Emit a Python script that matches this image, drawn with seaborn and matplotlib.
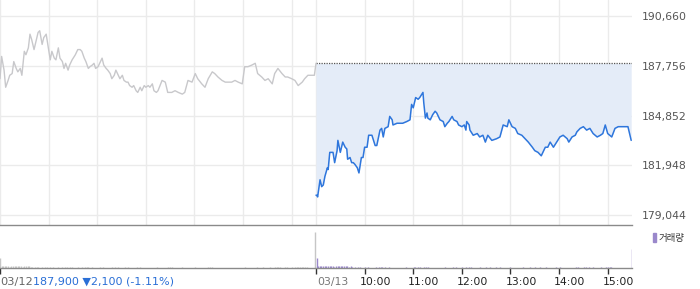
import numpy as np
import pandas as pd
import matplotlib
matplotlib.use("Agg")
import matplotlib.pyplot as plt
from matplotlib import transforms
from matplotlib.patches import Rectangle
import seaborn as sns

# ---------------- data ----------------
prev_close = 187900
ytick_values = [179044, 181948, 184852, 187756, 190660]
time_labels = ["10:00", "11:00", "12:00", "13:00", "14:00", "15:00"]
time_minutes = [60, 120, 180, 240, 300, 360]
day_labels = ["03/12", "03/13"]
summary_text = "187,900 \u25BC2,100 (-1.11%)"
legend_label = "거래량"

# 03/12 (minutes after 09:00, price)
day1_min = [0, 2, 5, 7, 10, 12, 15, 17, 20, 22,
            25, 27, 30, 32, 35, 37, 39, 42, 44, 47,
            49, 52, 54, 57, 59, 62, 64, 67, 69, 72,
            74, 77, 79, 81, 84, 86, 89, 93, 96, 99,
            101, 104, 106, 109, 111, 114, 116, 118, 121, 123,
            126, 128, 131, 133, 136, 138, 141, 143, 146, 148,
            151, 153, 156, 158, 160, 163, 165, 168, 170, 173,
            175, 178, 180, 183, 185, 188, 190, 193, 195, 200,
            204, 207, 212, 216, 220, 225, 228, 232, 237, 241,
            244, 249, 253, 257, 262, 265, 269, 274, 278, 281,
            286, 290, 294, 299, 302, 306, 311, 315, 318, 323,
            327, 331, 336, 339, 343, 348, 352, 355, 360, 364,
            368, 373, 376, 380, 385, 388, 390]
day1_price = [187000, 188300, 187500, 186500, 186900, 187200, 187300, 188000, 187600, 187400,
              187600, 187200, 188600, 188400, 188800, 189600, 189300, 188700, 189100, 189700,
              189800, 189000, 189400, 189600, 189000, 188100, 188600, 188200, 188100, 188800,
              188200, 188000, 187600, 187900, 187500, 187800, 188100, 188400, 188700, 188700,
              188600, 188200, 188000, 187600, 187700, 187800, 187900, 187600, 187700, 187900,
              188200, 187800, 187600, 187500, 187300, 187000, 187200, 187500, 187200, 187000,
              187200, 186900, 186800, 186800, 186600, 186500, 186600, 186300, 186200, 186500,
              186300, 186600, 186500, 186600, 186500, 186700, 186300, 186200, 186300, 186900,
              186800, 186200, 186200, 186300, 186200, 186100, 186200, 186900, 186800, 187300,
              187000, 186700, 186500, 187000, 187400, 187300, 187100, 186900, 186800, 186800,
              186800, 186900, 186800, 186700, 187700, 187700, 187800, 187900, 187300, 187100,
              186900, 187000, 186700, 187300, 187600, 187300, 187100, 187100, 187000, 186900,
              186600, 186800, 187000, 187200, 187200, 187200, 187900]

# 03/13
day2_min = [0, 1, 2, 5, 7, 9, 11, 14, 15, 17,
            21, 23, 26, 27, 30, 32, 33, 36, 38, 39,
            42, 44, 46, 48, 51, 53, 56, 58, 60, 63,
            65, 69, 73, 75, 79, 81, 83, 85, 89, 91,
            94, 95, 100, 104, 107, 112, 116, 118, 120, 123,
            126, 128, 132, 133, 135, 137, 138, 141, 144, 147,
            149, 153, 157, 159, 162, 164, 168, 170, 174, 176,
            180, 183, 185, 186, 189, 190, 194, 199, 202, 206,
            209, 212, 217, 223, 227, 231, 236, 238, 242, 246,
            249, 254, 258, 262, 267, 270, 274, 278, 283, 286,
            289, 293, 297, 301, 305, 310, 312, 316, 320, 322,
            326, 330, 334, 338, 342, 347, 351, 354, 357, 360,
            365, 369, 373, 378, 385, 389]
day2_price = [180200, 180200, 180100, 181100, 180700, 180800, 181300, 181800, 181700, 182700,
              182700, 182100, 182800, 183400, 182700, 183100, 183300, 183000, 182900, 182300,
              182400, 182100, 182100, 182000, 181800, 181500, 182400, 182400, 183000, 183000,
              183700, 183700, 183100, 183100, 184000, 184100, 183600, 184100, 184200, 184800,
              184600, 184300, 184400, 184400, 184400, 184500, 184600, 185500, 185300, 185900,
              185800, 185900, 186200, 185600, 184700, 185000, 184700, 184600, 184900, 185100,
              185000, 184600, 184500, 184200, 184400, 184500, 184800, 184600, 184500, 184300,
              184200, 184300, 184000, 184500, 184300, 184000, 183700, 183800, 183600, 183700,
              183300, 183700, 183400, 183500, 183600, 184300, 184200, 184600, 184200, 184100,
              183800, 183700, 183500, 183300, 183000, 182800, 182700, 182500, 183000, 183000,
              183300, 183000, 183300, 183600, 183700, 183500, 183300, 183600, 183700, 183900,
              184100, 184200, 184000, 184100, 183800, 183600, 183700, 183800, 184300, 183800,
              183600, 184100, 184200, 184200, 184200, 183400]

# volume (relative units)
vol1_min = [0, 2, 4, 6, 8, 10, 12, 14, 16, 18, 20, 22, 24, 26, 28, 30, 32, 34, 36, 38, 40,
            43, 46, 47, 52, 56, 58, 62, 65, 72, 77, 80, 83, 86, 89, 96, 101, 105, 107, 109, 114,
            123, 127, 138, 142, 146, 154, 158, 169, 173, 194, 207, 210, 212, 225, 241, 257, 259,
            262, 302, 317, 325, 333, 339, 342, 343, 345, 352, 354, 360, 364, 367, 368, 370, 373,
            374, 376, 379, 389]
vol1_val = [100, 20, 18, 16, 20, 18, 15, 18, 20, 17, 18, 16, 18, 20, 15, 18, 17, 16, 18, 15, 14,
            10, 12, 10, 10, 12, 10, 10, 10, 12, 10, 10, 10, 12, 10, 10, 10, 10, 12, 10, 10,
            10, 10, 10, 12, 10, 10, 10, 10, 10, 12, 10, 10, 10, 10, 10, 10, 10,
            10, 10, 10, 10, 10, 10, 12, 10, 10, 10, 10, 10, 12, 10, 10, 12, 10,
            10, 12, 10, 360]
vol2_min = [0, 2, 4, 6, 8, 10, 12, 14, 16, 18, 20, 22, 24, 26, 28, 30, 32, 34, 36, 38, 40, 42, 44,
            48, 51, 54, 60, 63, 73, 77, 79, 81, 85, 89, 110, 120, 122, 125, 128, 132, 135, 137,
            159, 168, 172, 180, 184, 188, 190, 202, 209, 214, 221, 227, 239, 255, 264, 270, 276,
            283, 295, 301, 320, 323, 330, 332, 336, 341, 351, 357, 360, 362, 363, 389]
vol2_val = [100, 20, 18, 16, 18, 20, 17, 18, 16, 18, 17, 15, 18, 16, 18, 20, 18, 16, 18, 17, 15, 16, 15,
            10, 12, 10, 10, 12, 10, 10, 10, 12, 10, 10, 10, 10, 10, 12, 10, 10, 10, 10,
            10, 10, 12, 10, 10, 10, 10, 10, 10, 10, 10, 10, 10, 10, 10, 10, 10,
            10, 10, 10, 10, 10, 10, 10, 10, 10, 10, 10, 12, 10, 12, 190]

# ---------------- styling ----------------
sns.set_theme(style="white")
plt.rcParams["font.family"] = ["DejaVu Sans", "Noto Sans CJK KR"]

W, H = 700, 289
fig = plt.figure(figsize=(W / 100, H / 100), dpi=100)
right_frac = 632 / W
ax = fig.add_axes([0, 1 - 225 / H, right_frac, 225 / H])
axv = fig.add_axes([0, 1 - 268 / H, right_frac, 43 / H])

df1 = pd.DataFrame({"x": day1_min, "price": day1_price})
df2 = pd.DataFrame({"x": np.array(day2_min) + 390, "price": day2_price})

grid_color = "#ebebeb"
blue = "#2e76dc"
gray_line = "#c8c8cb"
purple = "#9a88cb"

# grid lines
vgrid = [0] + time_minutes + [390] + [390 + m for m in time_minutes]
for xv in vgrid:
    ax.axvline(xv, color=grid_color, lw=1.0, zorder=0)
for yv in ytick_values:
    ax.axhline(yv, color=grid_color, lw=1.0, zorder=0)

ax.fill_between(df2["x"], df2["price"], prev_close, color="#e4ecf8", lw=0, zorder=1)
ax.hlines(prev_close, 390, 780, colors="#555555", linestyles=(0, (1, 1)), lw=0.9, zorder=2)
sns.lineplot(data=df1, x="x", y="price", ax=ax, color=gray_line, lw=1.0,
             estimator=None, sort=False, zorder=3)
sns.lineplot(data=df2, x="x", y="price", ax=ax, color=blue, lw=1.1,
             estimator=None, sort=False, zorder=4)

ax.set_xlim(0, 780)
ax.set_ylim(178461, 191594)
ax.set_xlabel("")
ax.set_ylabel("")
ax.set_xticks([])
ax.yaxis.tick_right()
ax.set_yticks(ytick_values)
ax.set_yticklabels([f"{v:,}" for v in ytick_values])
ax.tick_params(axis="y", length=0, pad=7, labelsize=7.8, labelcolor="#555555")
for s in ["top", "left", "right"]:
    ax.spines[s].set_visible(False)
ax.spines["bottom"].set_color("#8a8a8a")
ax.spines["bottom"].set_linewidth(1.0)
ax.grid(False)

# volume panel
axv.vlines(vol1_min, 0, vol1_val, color="#c6c6c6", lw=1.0)
axv.vlines(np.array(vol2_min) + 390.7, 0, vol2_val, color=purple, lw=1.0)
axv.set_xlim(0, 780)
axv.set_ylim(0, 430)
axv.set_yticks([])
axv.set_xticks([0, 390] + [390 + m for m in time_minutes])
axv.tick_params(axis="x", length=4, width=1.0, color="#333333", direction="out",
                labelbottom=False, bottom=True)
for s in ["top", "left", "right"]:
    axv.spines[s].set_visible(False)
axv.spines["bottom"].set_color("#8a8a8a")
axv.spines["bottom"].set_linewidth(1.0)
axv.patch.set_alpha(0)

# bottom labels
label_y = 1 - 282 / H
trans = transforms.blended_transform_factory(axv.transData, fig.transFigure)
fig.text(0.0, label_y, day_labels[0], color="#666666", fontsize=8.2, ha="left", va="center")
fig.text(33 / W, label_y, summary_text, color="#2a6fd6", fontsize=8.0, ha="left", va="center")
t2 = transforms.offset_copy(trans, fig=fig, x=1, y=0, units="dots")
axv.text(390, label_y, day_labels[1], transform=t2, color="#777777", fontsize=7.8,
         ha="left", va="center")
t3 = transforms.offset_copy(trans, fig=fig, x=-5, y=0, units="dots")
for m, lab in zip(time_minutes, time_labels):
    axv.text(390 + m, label_y, lab, transform=t3, color="#222222", fontsize=7.8,
             ha="left", va="center")

# legend
fig.patches.append(Rectangle((653 / W, 1 - 242 / H), 3 / W, 9 / H, transform=fig.transFigure,
                             color=purple, figure=fig))
fig.text(659 / W, 1 - 238 / H, legend_label, color="#333333", fontsize=6.8, ha="left",
         va="center", family=["Noto Sans CJK KR", "DejaVu Sans"])

fig.savefig("out.png", dpi=100)
